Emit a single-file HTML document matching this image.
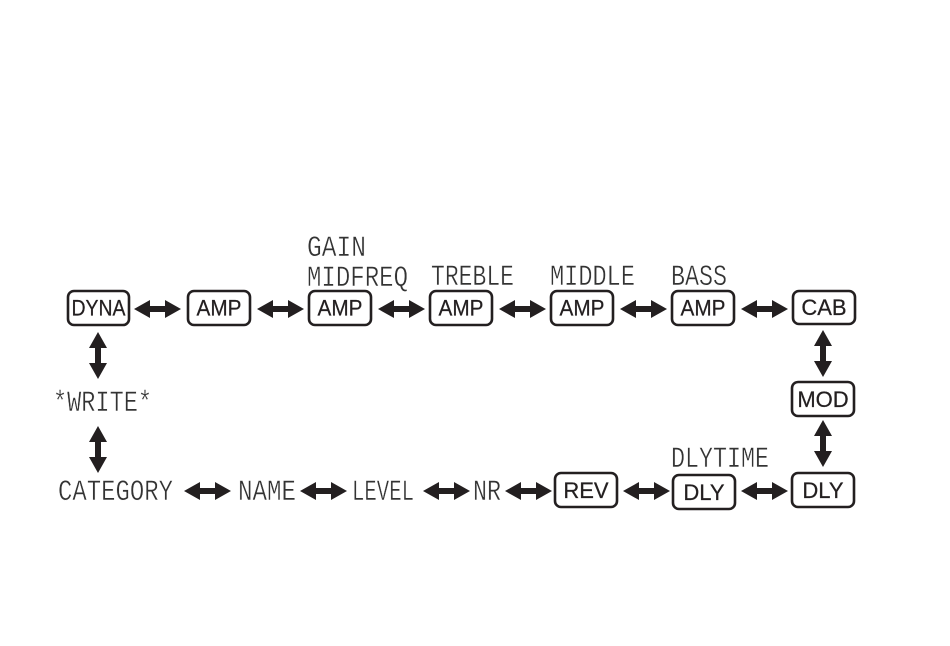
<!DOCTYPE html>
<html>
<head>
<meta charset="utf-8">
<style>
html,body{margin:0;padding:0;background:#fff;width:950px;height:646px;overflow:hidden}
svg{display:block}
.b{fill:#fff;stroke:#231f20;stroke-width:2.6}
.t{font-family:"Liberation Sans",sans-serif;font-size:22px;fill:#231f20;stroke:#231f20;stroke-width:.25;text-anchor:middle}
.l{font-family:"Liberation Mono",monospace;font-size:30px;fill:#333;stroke:#fff;stroke-width:.45}
.a{fill:#231f20}
</style>
</head>
<body>
<svg width="950" height="646" viewBox="0 0 950 646" xmlns="http://www.w3.org/2000/svg">
<defs>
<path id="h" class="a" d="M0 0 L16 -9 L16 -3 L31 -3 L31 -9 L47 0 L31 9 L31 3 L16 3 L16 9 Z"/>
<path id="v" class="a" d="M0 0 L9 16 L3 16 L3 31 L9 31 L0 47 L-9 31 L-3 31 L-3 16 L-9 16 Z"/>
</defs>

<rect class="b" x="68" y="291" width="61" height="34" rx="6"/><text class="t" x="98.500" y="315.500" textLength="54" lengthAdjust="spacingAndGlyphs">DYNA</text>
<rect class="b" x="188" y="291" width="62" height="34" rx="6"/><text class="t" x="219" y="315.500" textLength="45" lengthAdjust="spacingAndGlyphs">AMP</text>
<rect class="b" x="309" y="291" width="62" height="34" rx="6"/><text class="t" x="340" y="315.500" textLength="45" lengthAdjust="spacingAndGlyphs">AMP</text>
<rect class="b" x="430" y="291" width="62" height="34" rx="6"/><text class="t" x="461" y="315.500" textLength="45" lengthAdjust="spacingAndGlyphs">AMP</text>
<rect class="b" x="551" y="291" width="62" height="34" rx="6"/><text class="t" x="582" y="315.500" textLength="45" lengthAdjust="spacingAndGlyphs">AMP</text>
<rect class="b" x="672" y="291" width="62" height="34" rx="6"/><text class="t" x="703" y="315.500" textLength="45" lengthAdjust="spacingAndGlyphs">AMP</text>
<rect class="b" x="793" y="291" width="62" height="33" rx="6"/><text class="t" x="824" y="315">CAB</text>
<rect class="b" x="792" y="382" width="62" height="34" rx="6"/><text class="t" x="823" y="407">MOD</text>
<rect class="b" x="792" y="473" width="62" height="34" rx="6"/><text class="t" x="823" y="498">DLY</text>
<rect class="b" x="673" y="475" width="62" height="34" rx="6"/><text class="t" x="704" y="500">DLY</text>
<rect class="b" x="555" y="473" width="62" height="34" rx="6"/><text class="t" x="586" y="498">REV</text>

<use href="#h" x="134" y="309"/>
<use href="#h" x="257" y="309"/>
<use href="#h" x="378" y="309"/>
<use href="#h" x="499" y="309"/>
<use href="#h" x="620" y="309"/>
<use href="#h" x="741" y="309"/>
<use href="#h" x="184" y="491"/>
<use href="#h" x="300" y="491"/>
<use href="#h" x="423" y="491"/>
<use href="#h" x="505" y="491"/>
<use href="#h" x="623" y="491"/>
<use href="#h" x="741" y="491"/>
<use href="#v" x="98" y="332"/>
<use href="#v" x="98" y="426"/>
<use href="#v" x="823" y="330"/>
<use href="#v" x="823" y="420"/>

<text class="l" x="307" y="256" textLength="59" lengthAdjust="spacingAndGlyphs">GAIN</text>
<text class="l" x="307" y="286" textLength="101" lengthAdjust="spacingAndGlyphs">MIDFREQ</text>
<text class="l" x="431" y="285" textLength="83" lengthAdjust="spacingAndGlyphs">TREBLE</text>
<text class="l" x="550" y="285" textLength="85" lengthAdjust="spacingAndGlyphs">MIDDLE</text>
<text class="l" x="671" y="285" textLength="56" lengthAdjust="spacingAndGlyphs">BASS</text>
<text class="l" x="671" y="467" textLength="98" lengthAdjust="spacingAndGlyphs">DLYTIME</text>
<text class="l" x="53" y="411" textLength="99" lengthAdjust="spacingAndGlyphs">*WRITE*</text>
<text class="l" x="58" y="500" textLength="115" lengthAdjust="spacingAndGlyphs">CATEGORY</text>
<text class="l" x="238" y="500" textLength="58" lengthAdjust="spacingAndGlyphs">NAME</text>
<text class="l" x="352" y="500" textLength="62" lengthAdjust="spacingAndGlyphs">LEVEL</text>
<text class="l" x="473" y="500" textLength="28" lengthAdjust="spacingAndGlyphs">NR</text>
</svg>
</body>
</html>
